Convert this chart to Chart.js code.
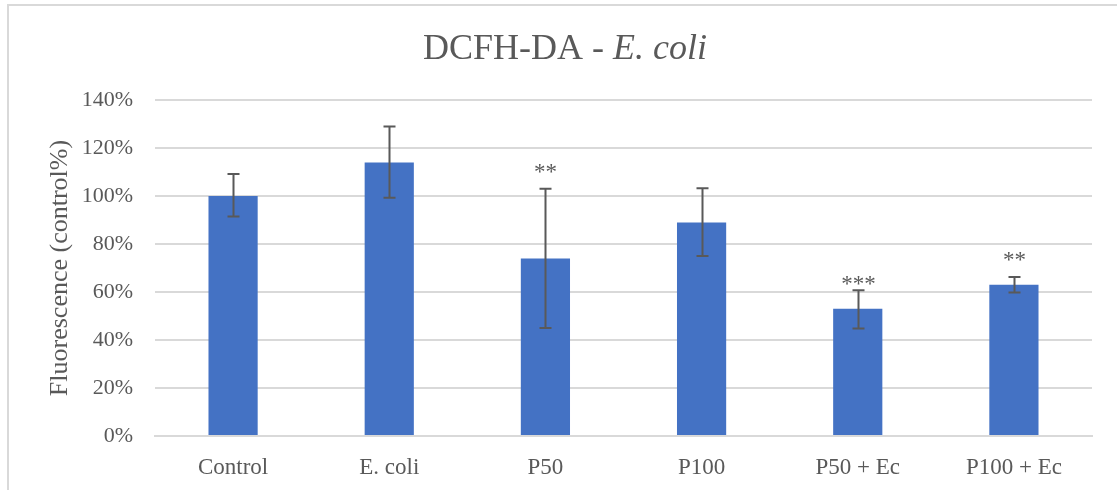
<!DOCTYPE html>
<html>
<head>
<meta charset="utf-8">
<script src="https://cdn.jsdelivr.net/npm/chart.js@4.4.1/dist/chart.umd.min.js"></script>
<style>
  html, body { margin: 0; padding: 0; background: #fff; }
  #wrap { position: relative; width: 1117px; height: 490px; }
  #frame { position: absolute; left: 7px; top: 4px; right: 0; bottom: -10px; border-left: 2px solid #d9d9d9; border-top: 2px solid #d9d9d9; }
  canvas { position: absolute; left: 0; top: 0; }
</style>
</head>
<body>
<div id="wrap">
  <div id="frame"></div>
  <canvas id="chart" width="1117" height="490"></canvas>
</div>
<script>
const categories = ["Control", "E. coli", "P50", "P100", "P50 + Ec", "P100 + Ec"]
const means = [100, 114, 74, 89, 53, 63]
const errLow = [91.5, 99.3, 45, 75, 44.8, 59.8]
const errHigh = [109.2, 129, 103, 103.2, 60.7, 66.3]
const marks = ["", "", "**", "", "***", "**"]
const yTicks = [0, 20, 40, 60, 80, 100, 120, 140]

const textColor = "#595959"
const serif = "'Liberation Serif', 'Times New Roman', serif"
// gap in px between the error cap and the significance stars
const markGap = [0, 0, 14, 0, 3, 14]

const overlay = {
  id: "overlay",
  afterDatasetsDraw(chart) {
    const { ctx, scales: { x, y } } = chart
    ctx.save()
    ctx.strokeStyle = "#595959"
    ctx.lineWidth = 2
    categories.forEach((c, i) => {
      const cx = Math.round(x.getPixelForValue(i)) + 0.5
      const top = y.getPixelForValue(errHigh[i])
      const bot = y.getPixelForValue(errLow[i])
      ctx.beginPath()
      ctx.moveTo(cx, top); ctx.lineTo(cx, bot)
      ctx.moveTo(cx - 6, top); ctx.lineTo(cx + 6, top)
      ctx.moveTo(cx - 6, bot); ctx.lineTo(cx + 6, bot)
      ctx.stroke()
      if (marks[i]) {
        ctx.fillStyle = textColor
        ctx.font = "23px " + serif
        ctx.textAlign = "center"
        ctx.textBaseline = "alphabetic"
        ctx.fillText(marks[i], cx, top + 4 - markGap[i])
      }
    })
    ctx.restore()
  },
  afterDraw(chart) {
    const { ctx } = chart
    ctx.save()
    ctx.fillStyle = textColor
    ctx.textBaseline = "alphabetic"
    // title with italic species name
    const a = "DCFH-DA - ", b = "E. coli"
    ctx.font = "36px " + serif
    const wa = ctx.measureText(a).width
    ctx.font = "italic 36px " + serif
    const wb = ctx.measureText(b).width
    const tx = 565 - (wa + wb) / 2
    ctx.font = "36px " + serif
    ctx.textAlign = "left"
    ctx.fillText(a, tx, 59)
    ctx.font = "italic 36px " + serif
    ctx.fillText(b, tx + wa, 59)
    // y axis title
    ctx.translate(67, 268)
    ctx.rotate(-Math.PI / 2)
    ctx.font = "26px " + serif
    ctx.textAlign = "center"
    ctx.fillText("Fluorescence (control%)", 0, 0)
    ctx.restore()
  }
}

new Chart(document.getElementById("chart"), {
  type: "bar",
  data: {
    labels: categories,
    datasets: [{ data: means, backgroundColor: "#4472c4", barPercentage: 0.315, categoryPercentage: 1 }]
  },
  options: {
    responsive: false, animation: false,
    layout: { padding: { top: 100, right: 25, left: 0, bottom: 0 } },
    plugins: { legend: { display: false }, tooltip: { enabled: false } },
    scales: {
      x: {
        grid: { display: false },
        border: { color: "#d9d9d9", width: 2 },
        ticks: { color: textColor, font: { family: serif, size: 23 }, padding: 10 },
        afterFit: s => { s.height = 54 }
      },
      y: {
        min: 0, max: 140,
        afterBuildTicks: s => { s.ticks = yTicks.map(v => ({ value: v })) },
        grid: { color: "#d9d9d9", lineWidth: 2, drawTicks: false },
        border: { display: false },
        ticks: { color: textColor, font: { family: serif, size: 22 }, padding: 22, callback: v => v + "%" },
        afterFit: s => { s.width = 155 }
      }
    }
  },
  plugins: [overlay]
})
</script>
</body>
</html>
